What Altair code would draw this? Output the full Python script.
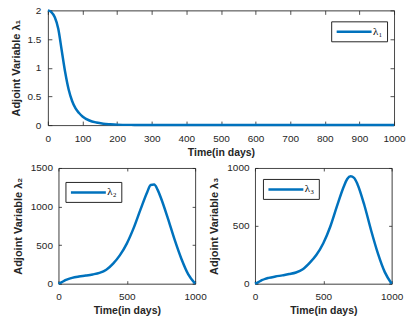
import altair as alt
import pandas as pd

# ---- data ----
t1 = [0, 10, 20, 30, 40, 50, 60, 70, 80, 90, 100, 120, 140, 160, 180, 200, 250, 300,
      400, 500, 600, 700, 800, 900, 1000]
lam1 = [2.0, 1.97, 1.88, 1.68, 1.30, 0.92, 0.62, 0.42, 0.29, 0.21, 0.15, 0.08, 0.045,
        0.025, 0.015, 0.008, 0.003, 0.001, 0, 0, 0, 0, 0, 0, 0]

t23 = [0, 25, 50, 75, 100, 150, 200, 250, 300, 350, 400, 450, 500, 550, 600, 650,
       675, 700, 725, 750, 800, 850, 900, 950, 1000]
lam2 = [0, 20, 45, 62, 75, 92, 105, 120, 140, 180, 260, 370, 520, 720, 960, 1190,
        1280, 1285, 1220, 1110, 850, 570, 320, 120, 0]
lam3 = [0, 14, 30, 42, 50, 62, 72, 83, 97, 125, 180, 250, 350, 490, 670, 840,
        905, 928, 915, 860, 680, 460, 260, 100, 0]

x_ticks_top = [0, 100, 200, 300, 400, 500, 600, 700, 800, 900, 1000]
x_ticks_bot = [0, 500, 1000]
y_ticks_1 = [0, 0.5, 1, 1.5, 2]
y_ticks_2 = [0, 500, 1000, 1500]
y_ticks_3 = [0, 500, 1000]

FONT = "Liberation Sans"
AX = "#262626"
BLUE = "#0072BD"
LABEL_EXPR = "'' + datum.value"


def grid_ticks(ticklen):
    return dict(grid=True, gridDash=[ticklen, 3000], gridColor=AX, gridWidth=0.8,
                gridOpacity=1, ticks=False, tickSize=0, domain=True,
                domainColor=AX, domainWidth=0.8, minExtent=0)


def panel(t, v, label, w, h, xvals, yvals, ymax, ytitle, lx, ly,
          ylabpad, ytitlepad, ticklen):
    df = pd.DataFrame({"t": t, "v": v, "series": [label] * len(t)})
    gt = grid_ticks(ticklen)
    xs = alt.Scale(domain=[0, 1000], nice=False, zero=False)
    ys = alt.Scale(domain=[0, ymax], nice=False, zero=False)
    base = alt.Chart(df).mark_line(strokeWidth=2.5, interpolate="monotone").encode(
        x=alt.X("t:Q", scale=xs, axis=alt.Axis(
            orient="bottom", values=xvals, labelExpr=LABEL_EXPR, title="Time(in days)",
            labelFont=FONT, labelFontSize=10, labelColor=AX, labelPadding=8,
            titleFont=FONT, titleFontSize=10.5, titleFontWeight="bold",
            titleColor=AX, titlePadding=4, labelFlush=False, **gt)),
        y=alt.Y("v:Q", scale=ys, axis=alt.Axis(
            orient="left", values=yvals, labelExpr=LABEL_EXPR, title=ytitle,
            labelFont=FONT, labelFontSize=10, labelColor=AX, labelPadding=ylabpad,
            titleFont=FONT, titleFontSize=11, titleFontWeight="bold",
            titleColor=AX, titlePadding=ytitlepad, labelFlush=False, **gt)),
        color=alt.Color("series:N", scale=alt.Scale(domain=[label], range=[BLUE]),
                        legend=alt.Legend(
                            title=None, orient="none", legendX=lx, legendY=ly,
                            symbolType="M-1,0H6", symbolSize=100,
                            symbolStrokeWidth=2.5, labelOffset=25, padding=4,
                            strokeColor=AX, labelFont="Liberation Serif",
                            labelFontSize=11, labelColor="black")),
    )
    overlay = alt.Chart(df).mark_line(opacity=0).encode(
        x=alt.X("t:Q", scale=xs, axis=alt.Axis(
            orient="top", values=xvals, labels=False, title=None, **gt)),
        y=alt.Y("v:Q", scale=ys, axis=alt.Axis(
            orient="right", values=yvals, labels=False, title=None, **gt)),
    )
    return alt.layer(base, overlay).resolve_axis(
        x="independent", y="independent").properties(width=w, height=h)


top = panel(t1, lam1, "λ₁", 347, 115, x_ticks_top, y_ticks_1, 2,
            "Adjoint Variable λ₁", 284, 11, 7, 6, 4)
bl = panel(t23, lam2, "λ₂", 137, 116, x_ticks_bot, y_ticks_2, 1500,
           "Adjoint Variable λ₂", 7, 14, 6, 7, 3)
br = panel(t23, lam3, "λ₃", 137, 116, x_ticks_bot, y_ticks_3, 1000,
           "Adjoint Variable λ₃", 8, 11, 6, 7, 3)

# invisible 1px spacer that shifts the lower row to the right of the top panel
spacer = alt.Chart(pd.DataFrame({"a": [0]})).mark_point(opacity=0).encode(
    x=alt.value(0), y=alt.value(0)).properties(width=1, height=1)

pair = alt.hconcat(bl, br, spacing=1).resolve_scale(
    color="independent").resolve_legend(color="independent")
bottom = alt.hconcat(spacer, pair, spacing=9.6, bounds="flush").resolve_scale(
    color="independent").resolve_legend(color="independent")

chart = alt.vconcat(top, bottom, spacing=4).resolve_scale(
    color="independent").resolve_legend(color="independent").properties(
    padding={"left": 9, "top": 4, "right": 0, "bottom": 0}
).configure_view(stroke=None).configure(background="white")

chart.save("out.html", embed_options={"renderer": "svg", "actions": False})
